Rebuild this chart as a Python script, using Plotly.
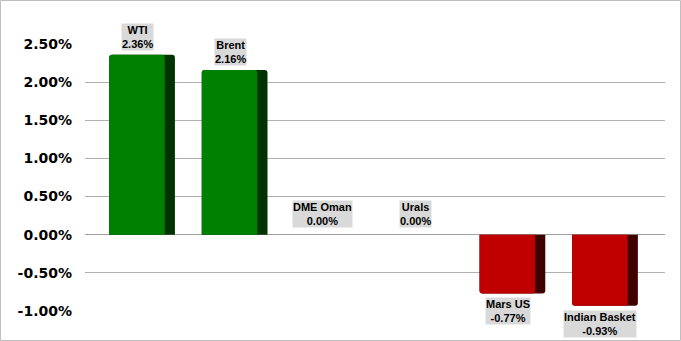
import plotly.graph_objects as go

categories = ["WTI", "Brent", "DME Oman", "Urals", "Mars US", "Indian Basket"]
values = [2.36, 2.16, 0.00, 0.00, -0.77, -0.93]
tick_vals = [-1.0, -0.5, 0.0, 0.5, 1.0, 1.5, 2.0, 2.5]
tick_text = ["-1.00%", "-0.50%", "0.00%", "0.50%", "1.00%", "1.50%", "2.00%", "2.50%"]

face_colors = ["#008000" if v >= 0 else "#c00000" for v in values]
shadow_colors = ["#003300" if v >= 0 else "#3f0000" for v in values]
xs = list(range(len(categories)))

fig = go.Figure()
fig.add_trace(go.Bar(x=xs, y=values, width=0.71, offset=-0.355,
                     marker=dict(color=shadow_colors, line=dict(width=0)),
                     hoverinfo="skip", showlegend=False))
fig.add_trace(go.Bar(x=xs, y=values, width=0.6, offset=-0.355,
                     marker=dict(color=face_colors, line=dict(width=0)),
                     showlegend=False))

for i, (c, v) in enumerate(zip(categories, values)):
    txt = f"{c}<br>{v:.2f}%"
    if v > 0:
        ya, ys = "bottom", 4
    elif v == 0:
        ya, ys = "bottom", 7
    else:
        ya, ys = "top", -4
    fig.add_annotation(x=i - 0.05, y=v, text=txt, showarrow=False,
                       xref="x", yref="y", yanchor=ya, yshift=ys,
                       font=dict(family="Liberation Sans", size=11, color="#000000", weight="bold"),
                       bgcolor="#d9d9d9", borderpad=0)

W, H = 681, 341
ml, mr, mt, mb = 85, 16, 44, 30
pw, ph = W - ml - mr, H - mt - mb
fig.add_shape(type="rect", xref="paper", yref="paper",
              x0=-(ml - 0.5) / pw, x1=1 + (mr - 0.5) / pw,
              y0=-(mb - 0.5) / ph, y1=1 + (mt - 0.5) / ph,
              line=dict(color="#bfbfbf", width=1), fillcolor="rgba(0,0,0,0)", layer="below")

fig.update_layout(
    width=W, height=H,
    margin=dict(l=ml, r=mr, t=mt, b=mb),
    paper_bgcolor="white", plot_bgcolor="white",
    barmode="overlay", barcornerradius=3,
    xaxis=dict(range=[-0.616, 5.648], showticklabels=False, showgrid=False,
               zeroline=False, showline=False),
    yaxis=dict(range=[-1.0, 2.5], tickvals=tick_vals, ticktext=tick_text,
               showgrid=True, gridcolor="#b0b0b0", gridwidth=1,
               zeroline=True, zerolinecolor="#a0a0a0", zerolinewidth=1,
               showline=False, ticks="", ticklabelstandoff=12,
               tickfont=dict(family="DejaVu Sans", size=14, color="#000000", weight="bold")),
)

fig.write_html("out.html")
